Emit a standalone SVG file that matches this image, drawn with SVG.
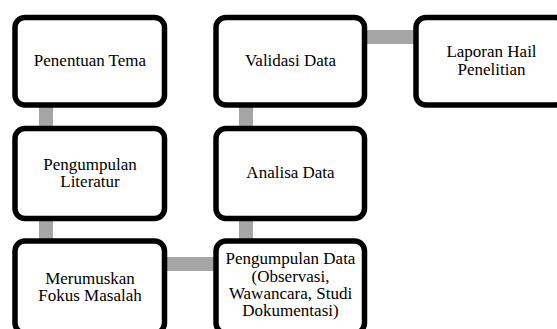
<svg xmlns="http://www.w3.org/2000/svg" width="557" height="329" viewBox="0 0 557 329">
<style>
.box{fill:#fff;stroke:#000;stroke-width:5.5}
.con{stroke:#a6a6a6;stroke-width:14;fill:none}
text{font-family:"Liberation Serif","Times New Roman",serif;font-size:17px;fill:#000;text-anchor:middle}
</style>
<rect width="557" height="329" fill="#fff"/>
<g id="connectors">
<line class="con" x1="46" y1="100" x2="46" y2="133"/>
<line class="con" x1="46" y1="214" x2="46" y2="246"/>
<line class="con" x1="160" y1="264" x2="220" y2="264"/>
<line class="con" x1="246" y1="214" x2="246" y2="246"/>
<line class="con" x1="246" y1="100" x2="246" y2="133"/>
<line class="con" x1="360" y1="37" x2="420" y2="37"/>
</g>
<g id="n1"><rect class="box" x="15" y="17.5" width="149.5" height="87.5" rx="10"/><text x="90" y="66">Penentuan Tema</text></g>
<g id="n2"><rect class="box" x="15" y="128.5" width="149.5" height="90" rx="10"/><text x="90" y="169.5">Pengumpulan</text><text x="90" y="187">Literatur</text></g>
<g id="n3"><rect class="box" x="15" y="241" width="149.5" height="92" rx="10"/><text x="90" y="283.5">Merumuskan</text><text x="90" y="300.8">Fokus Masalah</text></g>
<g id="n4"><rect class="box" x="216" y="241" width="148.5" height="92" rx="10"/><text x="290.5" y="264.3">Pengumpulan Data</text><text x="290.5" y="281.6">(Observasi,</text><text x="290.5" y="298.9">Wawancara, Studi</text><text x="290.5" y="316.2">Dokumentasi)</text></g>
<g id="n5"><rect class="box" x="216" y="128.5" width="148.5" height="90" rx="10"/><text x="290.5" y="178.3">Analisa Data</text></g>
<g id="n6"><rect class="box" x="216" y="17.5" width="148.5" height="87.5" rx="10"/><text x="290.5" y="66">Validasi Data</text></g>
<g id="n7"><rect class="box" x="416" y="17.5" width="149.5" height="87.5" rx="10"/><text x="491.5" y="57.3">Laporan Hail</text><text x="491.5" y="74.5">Penelitian</text></g>
</svg>
